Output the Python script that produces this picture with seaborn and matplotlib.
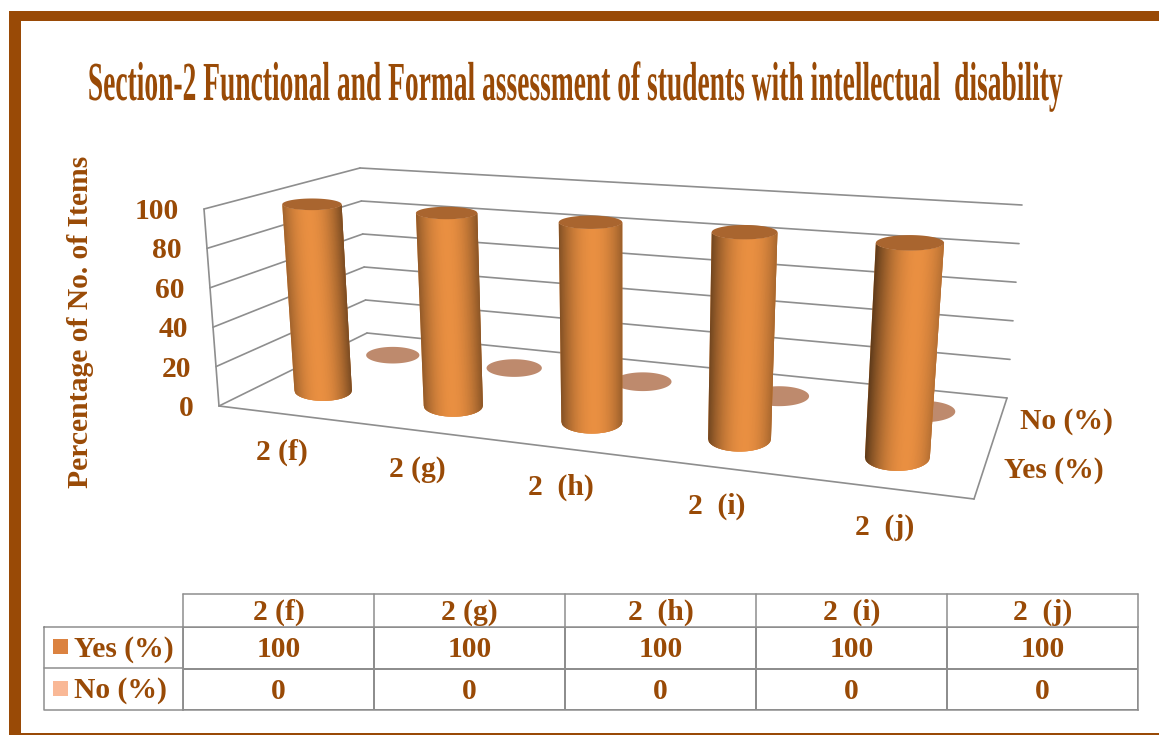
import numpy as np
import pandas as pd
import seaborn as sns
import matplotlib
matplotlib.use("Agg")
import matplotlib.pyplot as plt
from matplotlib.collections import PolyCollection
from matplotlib.colors import ListedColormap
from matplotlib.patches import Polygon, Rectangle
from matplotlib.patheffects import AbstractPathEffect
from matplotlib.transforms import Affine2D

# Chart values
categories = ["2 (f)", "2 (g)", "2  (h)", "2  (i)", "2  (j)"]
series_names = ["Yes (%)", "No (%)"]
yes_values = [100, 100, 100, 100, 100]
no_values = [0, 0, 0, 0, 0]
value_ticks = [0, 20, 40, 60, 80, 100]
title = "Section-2 Functional and Formal assessment of students with intellectual  disability"
y_label = "Percentage of No. of Items"

BROWN = "#994A06"
GRID = "#8E8E8E"
BAR_DARK = "#5E3A1A"
BAR_LIGHT = "#E98F41"
BAR_TOP = "#A9652F"
FLAT_DISC = "#BE8A6D"
SWATCH_YES = "#DB8240"
SWATCH_NO = "#F9B896"

sns.set_theme(style="white")
plt.rcParams["font.family"] = ["Liberation Serif", "DejaVu Serif"]
plt.rcParams["font.weight"] = "bold"

W, H = 1159, 735
fig = plt.figure(figsize=(W / 100, H / 100), dpi=100, facecolor="white")
canvas = fig.add_axes([0, 0, 1, 1], zorder=2)
canvas.set_xlim(0, W)
canvas.set_ylim(H, 0)
canvas.axis("off")
canvas.patch.set_alpha(0)


def homography(src, dst):
    rows, rhs = [], []
    for (x, y), (u, v) in zip(src, dst):
        rows.append([x, y, 1, 0, 0, 0, -u * x, -u * y])
        rows.append([0, 0, 0, x, y, 1, -v * x, -v * y])
        rhs += [u, v]
    return np.append(np.linalg.solve(np.array(rows, float), np.array(rhs, float)), 1).reshape(3, 3)


# Box corners: category axis 0..5, series axis 0..2, value axis 0..100
plane = [(0, 0), (5, 0), (5, 2), (0, 2)]
FLOOR = homography(plane, [(219, 406), (974, 499), (1007, 398), (367, 333)])
CEILING = homography(plane, [(204, 209), (993, 263), (1022, 205), (360, 168)])


def project(x, y, z):
    x, y, z = np.broadcast_arrays(np.asarray(x, float), np.asarray(y, float), np.asarray(z, float))
    p = np.stack([x, y, np.ones_like(x, dtype=float)])

    def apply(m):
        q = np.tensordot(m, p, axes=1)
        return q[:2] / q[2]

    return apply(FLOOR) * (1 - z / 100) + apply(CEILING) * (z / 100)


def edge(x0, y0, x1, y1, z):
    a, b = project([x0, x1], [y0, y1], [z, z])
    canvas.plot(a, b, color=GRID, lw=1.2, solid_capstyle="round", zorder=2)


# Walls and floor
for v in value_ticks:
    edge(0, 0, 0, 2, v)
    edge(0, 2, 5, 2, v)
a, b = project([0, 0], [0, 0], [0, 100])
canvas.plot(a, b, color=GRID, lw=1.2, zorder=2)
edge(0, 0, 5, 0, 0)
edge(5, 0, 5, 2, 0)

RX, RY = 0.205, 0.255
YES_DEPTH, NO_DEPTH = 0.55, 1.5
ramp = sns.blend_palette([BAR_DARK, BAR_LIGHT], n_colors=128, as_cmap=True)


def ring(cx, cy, z, rx, ry, t, widen=1.0, shift=(0.0, 0.0)):
    """Screen outline of a level disc, kept horizontal on the page."""
    c = project(cx, cy, z)
    half_w = (project(cx + rx, cy, z)[0] - project(cx - rx, cy, z)[0]) / 2 * widen
    half_h = (project(cx, cy + ry, z)[1] - project(cx, cy - ry, z)[1]) / 2
    return c[0] + shift[0] + half_w * np.cos(t), c[1] + shift[1] + half_h * np.sin(t)


def disc(cx, cy, z, rx, ry, color, order, widen=1.0, shift=(0.0, 0.0)):
    u, v = ring(cx, cy, z, rx, ry, np.linspace(0, 2 * np.pi, 120), widen, shift)
    canvas.add_patch(Polygon(np.column_stack([u, v]), closed=True, fc=color, ec="none", zorder=order))


def cylinder(cx, cy, value, index, order):
    # Equal-width strips across the visible front of the column
    t = 2 * np.pi - np.arccos(np.linspace(-1, 1, 81))
    widen = 1.11 - 0.035 * index
    foot, head = (-4.0, 0.0), (-5.0, 4.0)
    bu, bv = ring(cx, cy, 0, RX, RY, t, widen, foot)
    tu, tv = ring(cx, cy, value, RX, RY, t, widen, head)
    peak = 0.45 + 0.0425 * index
    # Solid body first so no strip seam lets the background through
    body = np.column_stack([np.r_[bu, tu[::-1]], np.r_[bv, tv[::-1]]])
    canvas.add_patch(Polygon(body, closed=True, fc=BAR_LIGHT, ec="none", zorder=order))
    quads, shades = [], []
    last = len(t) - 1
    for k in range(last):
        m = min(k + 2, last)
        quads.append([(bu[k], bv[k]), *zip(bu[k + 1:m + 1], bv[k + 1:m + 1]),
                      *zip(tu[k + 1:m + 1][::-1], tv[k + 1:m + 1][::-1]), (tu[k], tv[k])])
        p = (np.cos(0.5 * (t[k] + t[k + 1])) + 1) / 2
        shades.append(max(0.0, 1 - ((p - peak) / 0.62) ** 2))
    colors = ramp(np.array(shades))
    canvas.add_collection(PolyCollection(quads, facecolors=colors, edgecolors="none", zorder=order + 0.2))
    disc(cx, cy, value, RX, RY, BAR_TOP, order + 0.5, widen, head)


# Back row first, then the front row over it
for i, v in enumerate(no_values):
    disc(i + 0.5, NO_DEPTH, v, RX, RY * 0.95, FLAT_DISC, 3, 1.1 - 0.02 * i)
for i, v in enumerate(yes_values):
    cylinder(i + 0.5, YES_DEPTH, v, i, 4 + i)

# Value axis labels
text_kw = dict(color=BROWN, fontweight="bold", fontsize=21.3)
for v in value_ticks:
    px, py = project(0, 0, v)
    canvas.text(px - 25, py + 10, str(v), ha="right", va="baseline", **text_kw)

# Category and series labels
label_spots = [(282, 460), (417, 477), (561, 495), (717, 514), (885, 535)]
for name, (lx, ly) in zip(categories, label_spots):
    canvas.text(lx, ly, name, ha="center", va="baseline", **text_kw)
canvas.text(1020, 429, series_names[1], ha="left", va="baseline", **text_kw)
canvas.text(1004, 478, series_names[0], ha="left", va="baseline", **text_kw)
canvas.text(81, 322, y_label, rotation=90, ha="center", va="center", color=BROWN, fontweight="bold", fontsize=21.3)


class VerticalStretch(AbstractPathEffect):
    """Draws each glyph taller than its natural height, about the baseline."""

    def __init__(self, factor):
        super().__init__()
        self.factor = factor

    def draw_path(self, renderer, gc, tpath, affine, rgbFace=None):
        renderer.draw_path(gc, tpath, Affine2D().scale(1, self.factor) + affine, rgbFace)


canvas.text(575, 100, title, ha="center", va="baseline", color=BROWN, fontweight="bold", fontsize=19.8,
            path_effects=[VerticalStretch(2.0)])

# Data table below the chart
table = pd.DataFrame([yes_values, no_values], index=series_names, columns=categories)
tx0, tx1, ty0, ty1 = 183, 1138, 627, 710
table_ax = fig.add_axes([tx0 / W, 1 - ty1 / H, (tx1 - tx0) / W, (ty1 - ty0) / H], zorder=1)
sns.heatmap(table, ax=table_ax, annot=True, fmt="d", cbar=False, cmap=ListedColormap(["white"]),
            linewidths=1.1, linecolor=GRID, xticklabels=False, yticklabels=False,
            annot_kws=dict(color=BROWN, fontweight="bold", fontsize=21.3))
table_ax.set_xlabel("")
table_ax.set_ylabel("")
for s in table_ax.spines.values():
    s.set_visible(True)
    s.set_color(GRID)
    s.set_linewidth(1.1)
for label in table_ax.texts:
    label.set_y(label.get_position()[1] + 0.05)

col_w = (tx1 - tx0) / len(categories)
header_top, row_left = 594, 44
for k in range(len(categories) + 1):
    canvas.plot([tx0 + k * col_w] * 2, [header_top, ty0], color=GRID, lw=1.1, zorder=2)
canvas.plot([tx0, tx1], [header_top, header_top], color=GRID, lw=1.1, zorder=2)
for k, name in enumerate(categories):
    canvas.text(tx0 + (k + 0.5) * col_w, 620, name, ha="center", va="baseline", **text_kw)
canvas.plot([row_left, tx0, tx0, row_left, row_left], [ty0, ty0, ty1, ty1, ty0], color=GRID, lw=1.1, zorder=2)
canvas.plot([row_left, tx0], [668, 668], color=GRID, lw=1.1, zorder=2)
for name, swatch, sy, base in zip(series_names, [SWATCH_YES, SWATCH_NO], [639, 681], [657, 698]):
    canvas.add_patch(Rectangle((53, sy), 15, 15, fc=swatch, ec="none", zorder=3))
    canvas.text(74, base, name, ha="left", va="baseline", **text_kw)

# Page frame: top and left bands with a thin rule at the foot
canvas.add_patch(Rectangle((9, 11), W - 9, 10, fc=BROWN, ec="none", zorder=6))
canvas.add_patch(Rectangle((9, 11), 12, H - 11, fc=BROWN, ec="none", zorder=6))
canvas.add_patch(Rectangle((9, 733), W - 9, 2, fc=BROWN, ec="none", zorder=6))

fig.savefig("out.png", dpi=100, facecolor="white")
